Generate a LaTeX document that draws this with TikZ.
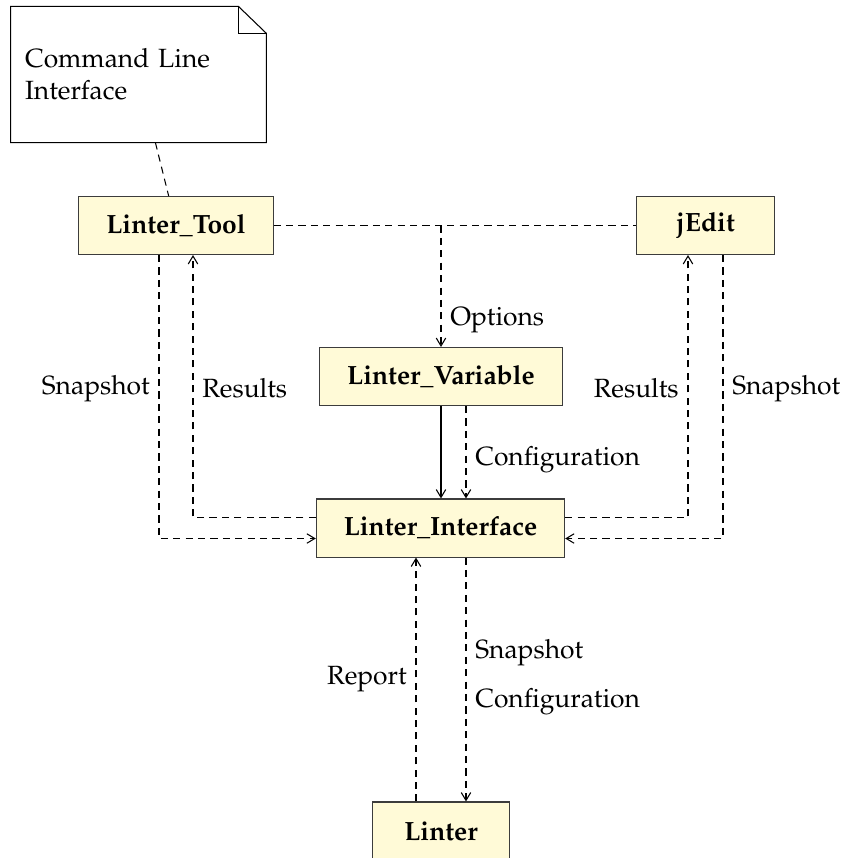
\documentclass[tikz,border=0pt]{standalone}
\usepackage[T1]{fontenc}
\usepackage{mathpazo}
\usetikzlibrary{arrows.meta,calc}

\definecolor{clsfill}{RGB}{255,250,215}
\definecolor{clsdraw}{RGB}{60,60,60}

\tikzset{
  cls/.style={draw=clsdraw, fill=clsfill, font=\bfseries, minimum height=22pt, minimum width=52pt, inner xsep=10.4pt},
  lnk/.style={dash pattern=on 2.7pt off 2pt},
  arr/.style={-{Straight Barb[length=3pt,width=3.6pt]}},
  dep/.style={lnk, arr}
}

\begin{document}
\begin{tikzpicture}[x=0.379pt,y=0.379pt,yscale=-1,xscale=1]
    \useasboundingbox (0,0) rectangle (847,858);

    %Shape: Note [id:note]
    \node [minimum width=96.6pt, minimum height=51.2pt, text width=86pt, align=left, inner xsep=5.3pt, inner ysep=0pt] (note) at (138.5,74.5) {Command Line\\Interface};
    \draw (note.north west) -- ($(note.north east)+(-28,0)$) -- ($(note.north east)+(0,27)$) -- (note.south east) -- (note.south west) -- cycle ;
    \draw ($(note.north east)+(-28,0)$) -- ($(note.north east)+(-28,27)$) -- ($(note.north east)+(0,27)$) ;

    %Shape: Class [id:tool]
    \node [cls] (tool) at (176,225.5) {Linter\_Tool};
    %Shape: Class [id:jedit]
    \node [cls] (jedit) at (705.5,225.5) {jEdit};
    %Shape: Class [id:var]
    \node [cls] (var) at (441,376.5) {Linter\_Variable};
    %Shape: Class [id:iface]
    \node [cls] (iface) at (440.5,528) {Linter\_Interface};
    %Shape: Class [id:linter]
    \node [cls] (linter) at (441,831) {Linter};

    %Straight Lines [id:note-tool]
    \draw [lnk] (note) -- (tool) ;
    %Straight Lines [id:options]
    \draw [lnk] (tool) -- (jedit) ;
    \coordinate (optsplit) at (var |- tool) ;
    \draw [dep] (optsplit) -- (var) node [pos=0.78, right] {Options} ;

    %Straight Lines [id:configuration]
    \draw [arr] (var) -- (var |- iface.north) ;
    \coordinate (cfgtop) at ($(var.south)+(25,0)$) ;
    \draw [dep] (cfgtop) -- (cfgtop |- iface.north) node [pos=0.585, right] {Configuration} ;

    %Straight Lines [id:left side]
    \coordinate (resL) at ($(iface.west)+(0,-10.5)$) ;
    \coordinate (resLtop) at ($(tool.south)+(17,0)$) ;
    \draw [dep] (resL) -| (resLtop) node [pos=0.746, right] {Results} ;
    \coordinate (snapL) at ($(tool.south)+(-17,0)$) ;
    \coordinate (snapLend) at ($(iface.west)+(0,10.5)$) ;
    \draw [dep] (snapL) |- (snapLend) node [pos=0.235, left] {Snapshot} ;

    %Straight Lines [id:right side]
    \coordinate (resR) at ($(iface.east)+(0,-10.5)$) ;
    \coordinate (resRtop) at ($(jedit.south)+(-17.5,0)$) ;
    \draw [dep] (resR) -| (resRtop) node [pos=0.746, left] {Results} ;
    \coordinate (snapR) at ($(jedit.south)+(17.5,0)$) ;
    \coordinate (snapRend) at ($(iface.east)+(0,10.5)$) ;
    \draw [dep] (snapR) |- (snapRend) node [pos=0.235, right] {Snapshot} ;

    %Straight Lines [id:bottom]
    \coordinate (rep) at ($(linter.north)+(-25,0)$) ;
    \draw [dep] (rep) -- (rep |- iface.south) node [midway, left] {Report} ;
    \coordinate (cfgbot) at ($(iface.south)+(25.5,0)$) ;
    \draw [dep] (cfgbot) -- (cfgbot |- linter.north) node [pos=0.39, right] {Snapshot} node [pos=0.59, right] {Configuration} ;

\end{tikzpicture}
\end{document}
